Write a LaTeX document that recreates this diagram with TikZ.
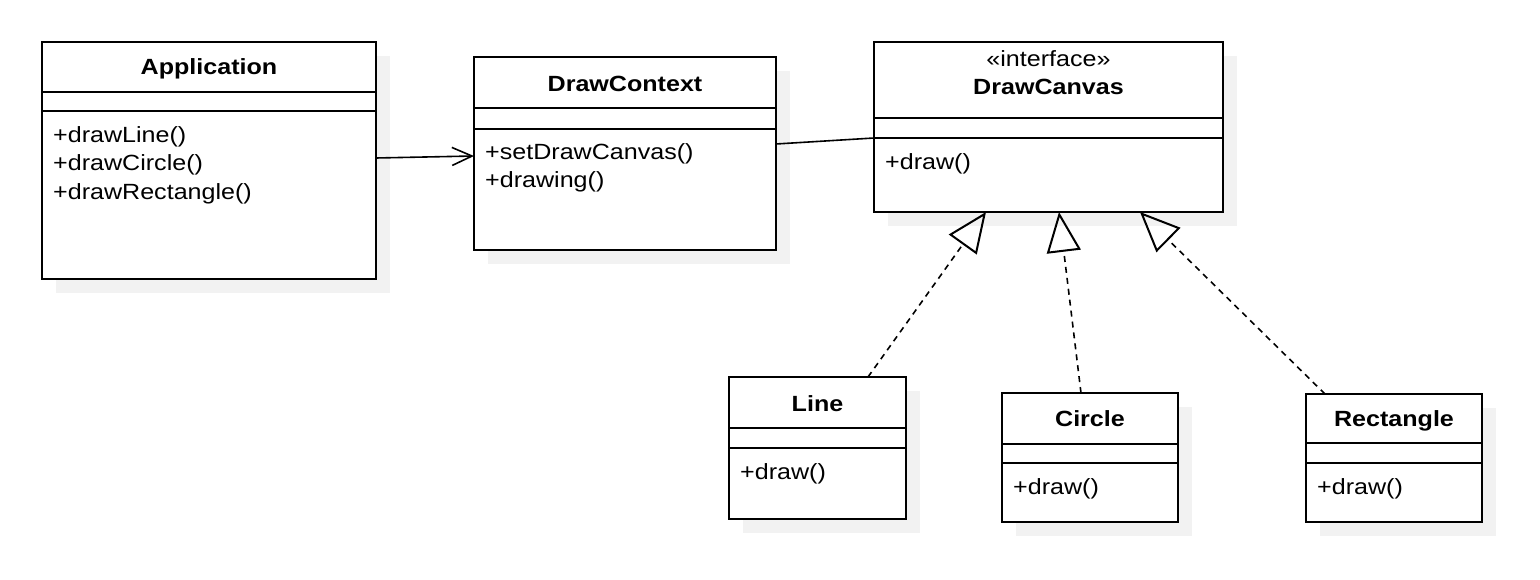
\documentclass[tikz,border=0pt]{standalone}
\usepackage{fontspec}
\setmainfont[FakeStretch=1.14]{Liberation Sans}
\usetikzlibrary{arrows.meta,calc}
\newcommand\umlbox[7]{%
  \fill[black!5] (#2+14,#3+14) rectangle (#4+14,#5+14);
  \node[classbox, minimum width=#4-#2, minimum height=#5-#3] (#1) at (#2,#3) {};
  \draw[sep] (#2,#6) -- (#4,#6) (#2,#7) -- (#4,#7);
}
\begin{document}
\begin{tikzpicture}[x=1pt,y=-1pt,
  classbox/.style={draw=black, fill=white, line width=2pt, anchor=north west, inner sep=0pt, outer sep=0pt},
  sep/.style={line width=2pt},
  hdr/.style={font=\fontsize{22}{26}\selectfont\bfseries, anchor=base, inner sep=0pt},
  stereo/.style={font=\fontsize{22}{26}\selectfont, anchor=base, inner sep=0pt},
  mth/.style={font=\fontsize{22}{26}\selectfont, anchor=base west, inner sep=0pt},
  realize/.style={dash pattern=on 6pt off 5pt, line width=1.6pt,
    -{Triangle[open,length=40pt,width=34pt,line width=2pt]}},
  assoc/.style={line width=1.6pt}
]
\useasboundingbox[fill=white] (0,0) rectangle (1540,580);

% Application
\umlbox{app}{42}{42}{376}{279}{92}{111}
\node[hdr] (appT) at (209,75) {Application};
\node[mth] (appM1) at (53,142.7) {+drawLine()};
\node[mth] (appM2) at (53,171) {+drawCircle()};
\node[mth] (appM3) at (53,199.3) {+drawRectangle()};

% DrawContext
\umlbox{dc}{474}{57}{776}{250}{108}{129}
\node[hdr] (dcT) at (625,91.7) {DrawContext};
\node[mth] (dcM1) at (485,160) {+setDrawCanvas()};
\node[mth] (dcM2) at (485,188) {+drawing()};

% DrawCanvas
\umlbox{canvas}{874}{42}{1223}{212}{118}{138}
\node[stereo] (cvS) at (1048.5,66.7) {«interface»};
\node[hdr] (cvT) at (1048.5,95) {DrawCanvas};
\node[mth] (cvM1) at (885,169.5) {+draw()};

% Line
\umlbox{line}{729}{377}{906}{519}{428}{448}
\node[hdr] (lineT) at (817.5,411) {Line};
\node[mth] (lineM1) at (740,479.5) {+draw()};

% Circle
\umlbox{circle}{1002}{393}{1178}{522}{444}{463}
\node[hdr] (circT) at (1090,426.5) {Circle};
\node[mth] (circM1) at (1013,494.5) {+draw()};

% Rectangle
\umlbox{rect}{1306}{394}{1482}{522}{443}{463}
\node[hdr] (rectT) at (1394,426.5) {Rectangle};
\node[mth] (rectM1) at (1317,494.5) {+draw()};

% connectors
\draw[assoc, -{Straight Barb[length=20pt,width=18pt,line width=1.6pt]}]
  ([yshift=2.5pt]app.east) -- ([yshift=-2.5pt]dc.west);
\draw[assoc] ([yshift=9.5pt]dc.east) -- ([yshift=-11pt]canvas.west);

\draw[realize] ([xshift=50.5pt]line.north) -- ([xshift=-62.5pt]canvas.south);
\draw[realize] ([xshift=-9pt]circle.north) -- ([xshift=10.5pt]canvas.south);
\draw[realize] ([xshift=-69pt]rect.north) -- ([xshift=91.5pt]canvas.south);
\end{tikzpicture}
\end{document}
